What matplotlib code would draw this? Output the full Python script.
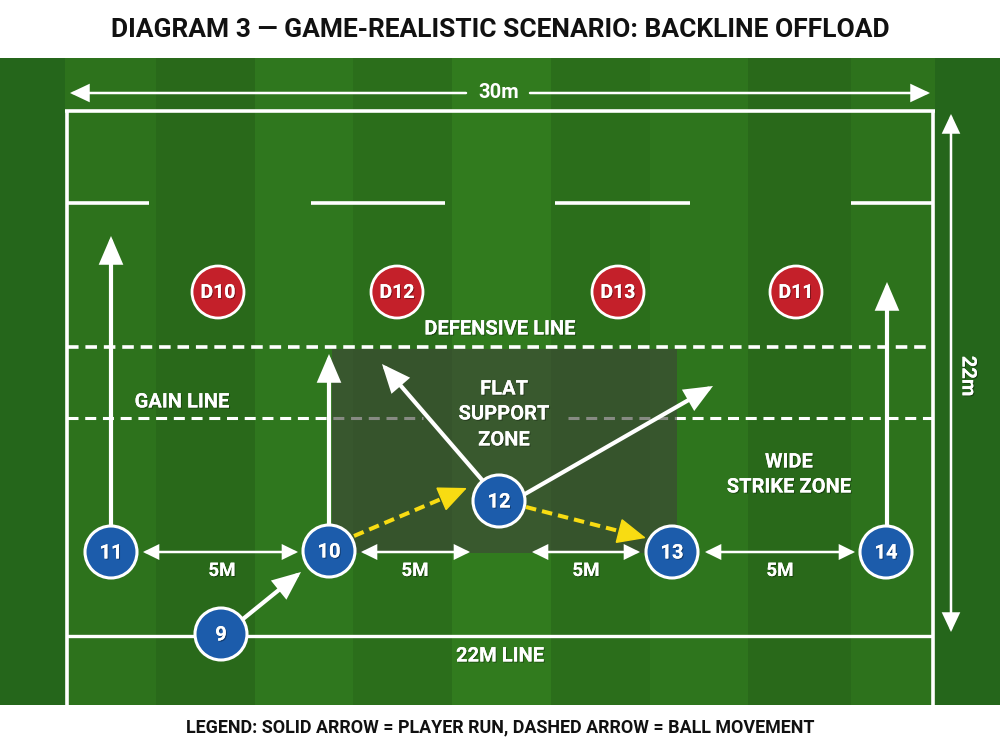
import matplotlib
matplotlib.use("Agg")
import matplotlib.pyplot as plt
from matplotlib.patches import Rectangle, Circle, FancyArrowPatch
import matplotlib.patheffects as pe

plt.rcParams['font.family'] = ['Roboto', 'DejaVu Sans']

TITLE = "DIAGRAM 3 — GAME-REALISTIC SCENARIO: BACKLINE OFFLOAD"
LEGEND = "LEGEND: SOLID ARROW = PLAYER RUN, DASHED ARROW = BALL MOVEMENT"

stripe_edges = [0, 65, 156, 255, 353, 452, 551, 650, 748, 851, 935, 1000]
stripe_colors = ['#25661b', '#2d721c', '#29691a', '#2f771e', '#2b6e1b', '#317b1e',
                 '#2b6e1b', '#2e751d', '#29691a', '#2d721c', '#25661b']

attackers = [("11", 111, 552), ("10", 329, 551), ("12", 499, 501), ("13", 672, 552), ("14", 886, 552), ("9", 221, 634)]
defenders = [("D10", 218, 292), ("D12", 397, 292), ("D13", 618, 292), ("D11", 796, 292)]

runs = [(111, 526, 111, 236), (329, 525, 329, 354), (483, 481, 382, 364),
        (525, 494, 713, 386), (887, 526, 887, 282), (243, 619, 301, 572)]
passes = [(354, 536, 467, 488), (526, 507, 646, 538)]
spans = [(143, 552, 298, 552), (361, 552, 470, 552), (532, 552, 640, 552), (705, 552, 855, 552)]
span_labels = [("5M", 222, 571), ("5M", 415, 571), ("5M", 586, 571), ("5M", 780, 571)]
try_segments = [(68, 149), (311, 445), (555, 690), (851, 932)]
labels = [("DEFENSIVE LINE", 500, 329), ("GAIN LINE", 182, 402), ("FLAT", 504, 389), ("SUPPORT", 504, 414),
          ("ZONE", 504, 440), ("WIDE", 789, 462), ("STRIKE ZONE", 789, 487), ("22M LINE", 500, 656)]

fig = plt.figure(figsize=(10, 7.47), dpi=100, facecolor='white')
ax = fig.add_axes([0, 0, 1, 1])
ax.set_xlim(0, 1000)
ax.set_ylim(747, 0)
ax.axis('off')

for i, c in enumerate(stripe_colors):
    ax.add_patch(Rectangle((stripe_edges[i], 58), stripe_edges[i + 1] - stripe_edges[i], 647, fc=c, ec='none', zorder=1))

W = 'white'
def line(x0, y0, x1, y1, lw=2.6):
    ax.plot([x0, x1], [y0, y1], color=W, lw=lw, solid_capstyle='butt', zorder=3)

line(67, 705, 67, 109.5); line(65, 111, 935, 111); line(933, 109.5, 933, 705)
line(67, 636, 933, 636, lw=2.4)
for a, b in try_segments:
    line(a, 203, b, 203)
ax.plot([67, 933], [347, 347], color=W, lw=2.6, dashes=(3.2, 1.9), zorder=3)
ax.plot([67, 423], [418, 418], color=W, lw=2.2, dashes=(3.6, 2.2), zorder=3)
ax.plot([568, 933], [418, 418], color=W, lw=2.2, dashes=(3.6, 2.2), zorder=3)
ax.add_patch(Rectangle((332, 349), 345, 204, fc='#3e4438', ec='none', alpha=0.62, zorder=3.5))

def arrow(p, style, color=W, lw=3, ms=22):
    ax.add_patch(FancyArrowPatch((p[0], p[1]), (p[2], p[3]), arrowstyle=style, mutation_scale=ms, color=color,
                                 lw=lw, shrinkA=0, shrinkB=0, joinstyle='miter', zorder=4))

for p in runs:
    arrow(p, '-|>,head_length=0.7,head_width=0.3')
Y = '#f8dc12'
for x0, y0, x1, y1 in passes:
    ax.plot([x0, x0 + (x1 - x0) * 0.84], [y0, y0 + (y1 - y0) * 0.84], color=Y, lw=2.9, dashes=(2.6, 1.5), zorder=4)
    arrow((x0 + (x1 - x0) * 0.8, y0 + (y1 - y0) * 0.8, x1, y1), '-|>,head_length=0.85,head_width=0.38', color=Y, lw=1)
for p in spans:
    arrow(p, '<|-|>,head_length=0.55,head_width=0.27', lw=1.8, ms=16)
arrow((70, 93, 466, 93), '<|-,head_length=0.7,head_width=0.33', lw=1.8, ms=16)
arrow((530, 93, 930, 93), '-|>,head_length=0.7,head_width=0.33', lw=1.8, ms=16)
arrow((951, 114, 951, 632), '<|-|>,head_length=0.7,head_width=0.33', lw=1.8, ms=16)

shadow = [pe.withSimplePatchShadow(offset=(0.8, -0.8), shadow_rgbFace='black', alpha=0.35), pe.Normal()]
def label(x, y, s, fs, **k):
    t = ax.text(x, y, s, color=W, fontsize=fs, fontweight='bold', ha='center', va='center', zorder=6, **k)
    t.set_path_effects(shadow)

for n, x, y in attackers:
    ax.add_patch(Circle((x, y), 26, fc='#1c5cab', ec=W, lw=2.2, zorder=5))
    label(x, y + 1, n, 14.5)
for n, x, y in defenders:
    ax.add_patch(Circle((x, y), 26, fc='#c4202a', ec=W, lw=2, zorder=5))
    label(x, y + 1, n, 14)

for s, x, y in span_labels:
    label(x, y, s, 13.5)
for s, x, y in labels:
    label(x, y, s, 14.5)
ax.text(499, 93, "30m", color=W, fontsize=14.5, fontweight='bold', ha='center', va='center', zorder=6)
label(968, 376, "22m", 14.5, rotation=270)
ax.text(500, 30, TITLE, color='#111111', fontsize=19, fontweight='bold', ha='center', va='center')
ax.text(500, 727, LEGEND, color='#111111', fontsize=12.9, fontweight='bold', ha='center', va='center')

fig.savefig('out.png', dpi=100)
